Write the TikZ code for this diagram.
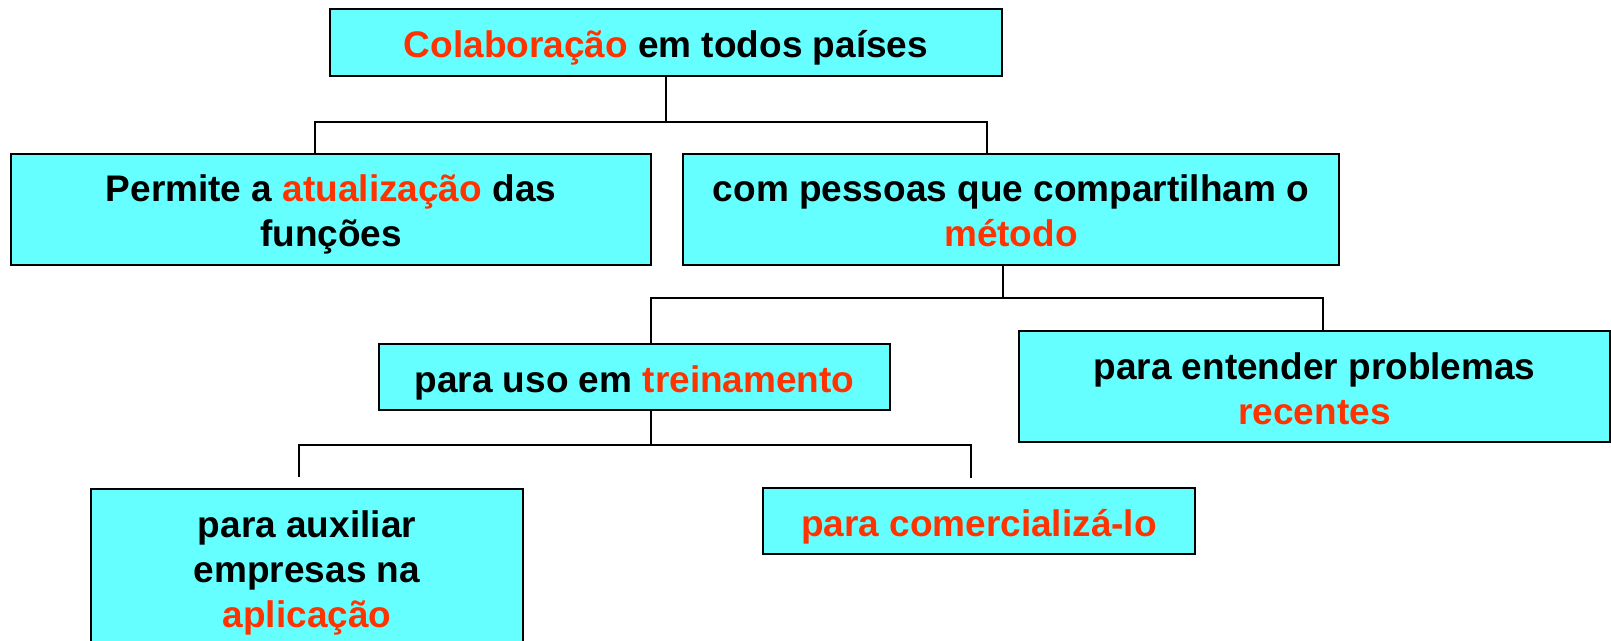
\documentclass[tikz,border=0pt]{standalone}
\usepackage{fontspec}
\setmainfont{Liberation Sans}
\definecolor{boxcyan}{HTML}{66FFFF}
\definecolor{hl}{HTML}{FF3300}
\newcommand{\red}[1]{\textcolor{hl}{#1}}
\newcommand{\boxtext}[1]{\raisebox{0pt}[\dimexpr\height+12.5pt\relax][\depth]{\begin{tabular}{@{}c@{}}#1\end{tabular}}}
\tikzset{
  box/.style={draw=black, line width=2pt, fill=boxcyan, inner sep=0pt,
    font=\fontsize{37pt}{45pt}\selectfont\bfseries},
  conn/.style={draw=black, line width=1.6pt}
}
\begin{document}
\begin{tikzpicture}[x=1pt,y=-1pt]
\clip (0,0) rectangle (1611,640);
\fill[white] (0,0) rectangle (1611,640);

\node[box, minimum width=672pt, minimum height=67pt] (top) at (666,42.5)
  {\boxtext{\red{Colaboração} em todos países}};
\node[box, minimum width=640pt, minimum height=111pt] (A) at (331,209)
  {\boxtext{Permite a \red{atualização} das\\funções}};
\node[box, minimum width=656pt, minimum height=111pt] (B) at (1011,209)
  {\boxtext{com pessoas que compartilham o\\\red{método}}};
\node[box, minimum width=511pt, minimum height=66pt] (C) at (634.5,377)
  {\boxtext{para uso em \red{treinamento}}};
\node[box, minimum width=591pt, minimum height=111pt] (D) at (1314.5,386.5)
  {\boxtext{para entender problemas\\\red{recentes}}};
\node[box, minimum width=432pt, minimum height=156pt] (E) at (307,567)
  {\boxtext{para auxiliar\\empresas na\\\red{aplicação}}};
\node[box, minimum width=431.5pt, minimum height=66pt] (F) at (979,521)
  {\boxtext{\red{para comercializá-lo}}};

% level 1
\coordinate (j1) at (666,122);
\draw[conn] (top.south) -- (j1);
\draw[conn] ([xshift=-16pt]A.north) |- (j1);
\draw[conn] ([xshift=-24pt]B.north) |- (j1);

% level 2
\coordinate (j2) at (1003,298);
\draw[conn] ([xshift=-8pt]B.south) -- (j2);
\draw[conn] ([xshift=16.5pt]C.north) |- (j2);
\draw[conn] ([xshift=8.5pt]D.north) |- (j2);

% level 3
\coordinate (j3) at (651,445);
\coordinate (e1) at (299,477);
\coordinate (f1) at (971,478);
\draw[conn] ([xshift=16.5pt]C.south) -- (j3);
\draw[conn] (e1) |- (j3);
\draw[conn] (f1) |- (j3);
\end{tikzpicture}
\end{document}
